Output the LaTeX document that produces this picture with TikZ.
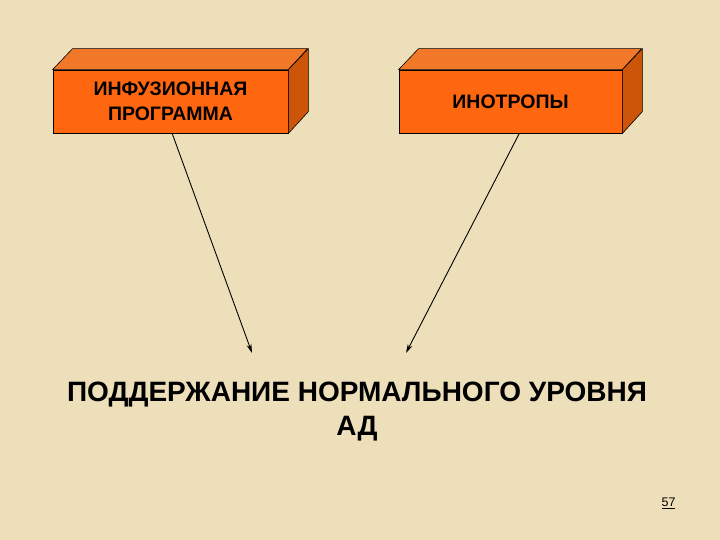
\documentclass[tikz,border=0pt]{standalone}
\usepackage{fontspec}
\setmainfont{Liberation Sans}
\usetikzlibrary{arrows.meta}
\definecolor{parch}{RGB}{238,223,187}
\definecolor{front}{RGB}{255,102,16}
\definecolor{topf}{RGB}{240,120,40}
\definecolor{sidef}{RGB}{205,85,10}
\tikzset{
  frontbox/.style={draw=black, line width=0.8pt, fill=front, minimum height=63pt, inner sep=0pt, align=center, font=\bfseries\fontsize{19.5}{25}\selectfont},
  face/.style={draw=black, line width=0.6pt},
  link/.style={line width=0.9pt, -{Stealth[length=9pt,width=5pt]}}
}
\begin{document}
\begin{tikzpicture}[x=1pt,y=-1pt]
\fill[parch] (0,0) rectangle (720,540);
\useasboundingbox (0,0) rectangle (720,540);
% box 1
\node[frontbox, minimum width=235pt] (b1) at (170.5,101.5) {ИНФУЗИОННАЯ\\ПРОГРАММА};
\fill[topf,face] (b1.north west) -- ++(20,-21) -- ++(235,0) -- (b1.north east) -- cycle;
\fill[sidef,face] (b1.north east) -- ++(20,-21) -- ++(0,63) -- (b1.south east) -- cycle;
% box 2
\node[frontbox, minimum width=223pt] (b2) at (510.5,101.5) {ИНОТРОПЫ};
\fill[topf,face] (b2.north west) -- ++(20,-21) -- ++(223,0) -- (b2.north east) -- cycle;
\fill[sidef,face] (b2.north east) -- ++(20,-21) -- ++(0,63) -- (b2.south east) -- cycle;
% goal text
\node[align=center, inner sep=0pt, font=\bfseries\fontsize{28}{34}\selectfont] (goal) at (357,412) {ПОДДЕРЖАНИЕ НОРМАЛЬНОГО УРОВНЯ\\АД};
\coordinate (e1) at (252,353);
\coordinate (e2) at (406,353);
\draw[link] (172,133) -- (e1);
\draw[link] (519,134) -- (e2);
% page number
\node[inner sep=0pt, font=\fontsize{12.5}{14}\selectfont] (pg) at (668.5,503) {\underline{57}};
\end{tikzpicture}
\end{document}
